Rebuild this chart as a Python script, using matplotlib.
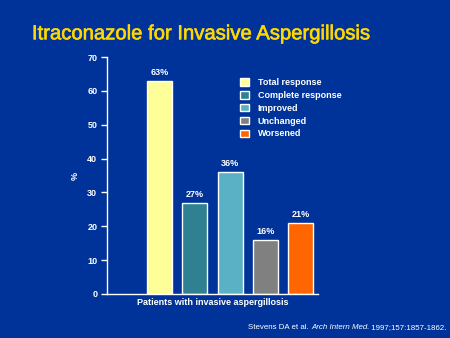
import matplotlib
matplotlib.use("Agg")
import matplotlib.pyplot as plt
import matplotlib.patches as mpatches
import matplotlib.patheffects as pe

BG = '#003399'

categories = ['Total response', 'Complete response', 'Improved', 'Unchanged', 'Worsened']
values = [63, 27, 36, 16, 21]
colors = ['#FFFF99', '#2F8090', '#5AB0C4', '#808080', '#FF6600']
yticks = [0, 10, 20, 30, 40, 50, 60, 70]

fig = plt.figure(figsize=(4.5, 3.38), dpi=100, facecolor=BG)
ax = fig.add_axes([0.2378, 0.1302, 0.469, 0.701], facecolor=BG)

x = list(range(len(values)))
ax.bar(x, values, width=0.71, color=colors, edgecolor='white', linewidth=1.0)

for xi, v in zip(x, values):
    ax.text(xi, v + 1.2, f'{v}%', ha='center', va='bottom', color='white',
            fontsize=6.5, fontweight='bold', family='Liberation Sans')

ax.set_xlim(-1.5, 4.5)
ax.set_ylim(0, 70)
ax.set_yticks(yticks)
ax.set_xticks([])
for s in ['top', 'right']:
    ax.spines[s].set_visible(False)
for s in ['left', 'bottom']:
    ax.spines[s].set_color('white')
    ax.spines[s].set_linewidth(1.0)
ax.tick_params(axis='y', colors='white', length=4, width=1.0, pad=3)
for lbl in ax.get_yticklabels():
    lbl.set_fontsize(6.5)
    lbl.set_fontweight('bold')
    lbl.set_family('Liberation Sans')

ax.set_ylabel('%', color='white', fontsize=6.5, fontweight='bold',
              family='Liberation Sans', labelpad=5)
ax.set_xlabel('Patients with invasive aspergillosis', color='white', fontsize=6.5,
              fontweight='bold', family='Liberation Sans', labelpad=3)

# legend
handles = [mpatches.Patch(facecolor=c, edgecolor='white', linewidth=1.0, label=l)
           for c, l in zip(colors, categories)]
leg = ax.legend(handles=handles, loc='upper left', bbox_to_anchor=(0.59, 0.945),
                frameon=False, handlelength=1.0, handleheight=0.9, handletextpad=1.0,
                labelspacing=0.42, prop={'family': 'Liberation Sans', 'weight': 'bold',
                                         'size': 6.5})
for t in leg.get_texts():
    t.set_color('white')

title = fig.text(0.071, 0.9, 'Itraconazole for Invasive Aspergillosis', color='#FFD700',
                 fontsize=14.6, family='Liberation Sans', ha='left', va='center')
title.set_path_effects([pe.Stroke(linewidth=0.45, foreground='#FFD700'), pe.Normal()])

# citation line, pieces chained left to right
t1 = fig.text(0.551, 0.032, 'Stevens DA et al. ', color='white', fontsize=5.7,
              family='Liberation Sans', ha='left', va='center')
t2 = fig.text(0, 0, 'Arch Intern Med.', color='white', fontsize=5.7,
              family='Liberation Sans', style='italic', ha='left', va='center')
t3 = fig.text(0, 0, ' 1997;157:1857-1862.', color='white', fontsize=5.7,
              family='Liberation Sans', ha='left', va='center')
renderer = fig.canvas.get_renderer()
inv = fig.transFigure.inverted()
bb1 = t1.get_window_extent(renderer)
t2.set_position((inv.transform((bb1.x1, 0))[0], 0.032))
bb2 = t2.get_window_extent(renderer)
t3.set_position((inv.transform((bb2.x1, 0))[0], 0.032))

fig.savefig('out.png', dpi=100, facecolor=BG)
